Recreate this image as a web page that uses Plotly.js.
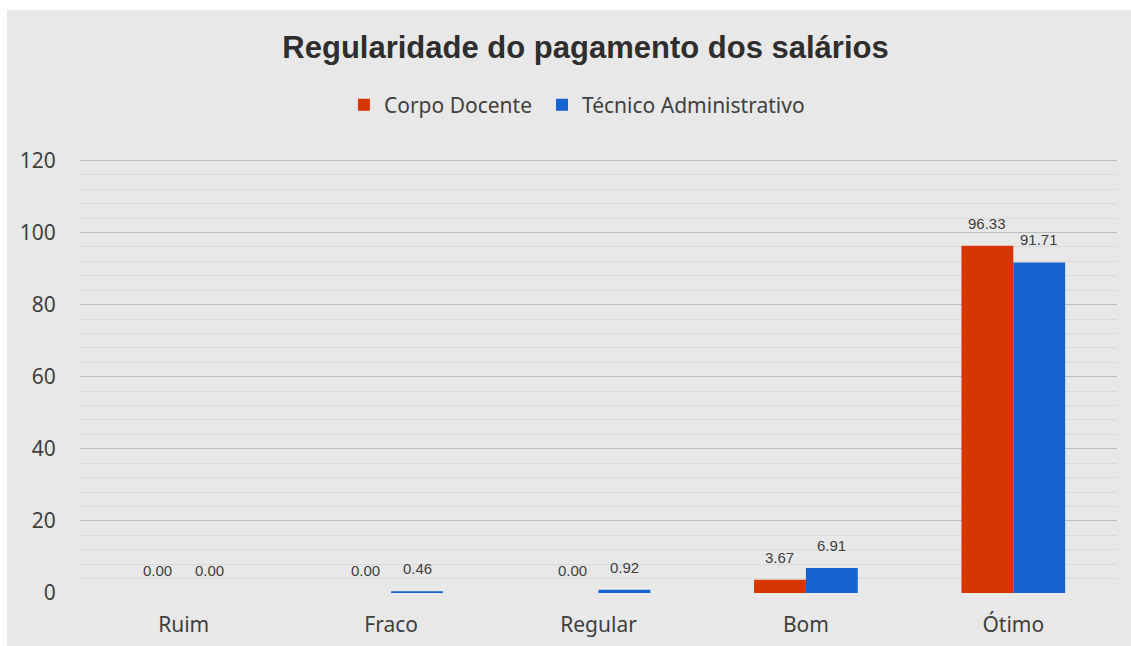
<!DOCTYPE html>
<html><head><meta charset="utf-8">
<script src="https://cdn.plot.ly/plotly-3.0.1.min.js"></script>
<style>
html,body{margin:0;padding:0;background:#ffffff;}
#chart{position:absolute;left:7px;top:10px;width:1124px;height:636px;}
</style></head>
<body><div id="chart"></div>
<script>
const categories = ["Ruim","Fraco","Regular","Bom","Ótimo"];
const corpoDocente = [0.00, 0.00, 0.00, 3.67, 96.33];
const tecnicoAdm = [0.00, 0.46, 0.92, 6.91, 91.71];
const seriesNames = ["Corpo Docente","Técnico Administrativo"];
const seriesColors = ["#d73502","#1463d0"];

const bargap = 0.5;
const nSeries = 2;
const barW = (1 - bargap) / nSeries;
const labelFont = {family:"Liberation Sans, Arial, sans-serif", size:15, color:"#404040"};
const legendIds = ["legend","legend2"];

const traces = [corpoDocente, tecnicoAdm].map((vals, s) => ({
  type:"bar", name:seriesNames[s], x:categories, y:vals, legend:legendIds[s],
  marker:{color:seriesColors[s]}, hoverinfo:"none"
}));

const annotations = [];
[corpoDocente, tecnicoAdm].forEach((vals, s) => {
  vals.forEach((v, i) => {
    annotations.push({
      xref:"x", yref:"y", x: i + (s - (nSeries - 1) / 2) * barW, y: v,
      text: v.toFixed(2), showarrow:false, xanchor:"center", yanchor:"bottom",
      yshift: 12, font: labelFont
    });
  });
});

const legendBase = {orientation:"h", xanchor:"left", y:1.124, yanchor:"middle",
  font:{family:"Noto Sans, sans-serif", size:21, color:"#404040"},
  bgcolor:"rgba(0,0,0,0)", itemwidth:30};

const layout = {
  width:1124, height:636,
  paper_bgcolor:"#e8e8e8", plot_bgcolor:"#e8e8e8",
  margin:{l:73, r:14, t:149, b:53},
  barmode:"group", bargap:bargap, bargroupgap:0,
  title:{text:"<b>Regularidade do pagamento dos salários</b>", x:0.5147, xanchor:"center",
         y:0.942, yanchor:"middle",
         font:{family:"Liberation Sans, Arial, sans-serif", size:31, color:"#2e2e2e"}},
  showlegend:true,
  legend:Object.assign({}, legendBase, {x:0.2545}),
  legend2:Object.assign({}, legendBase, {x:0.4455}),
  annotations: annotations,
  xaxis:{type:"category", showgrid:false, zeroline:false, showline:false,
         ticks:"outside", ticklen:13, tickcolor:"rgba(0,0,0,0)",
         tickfont:{family:"Noto Sans, sans-serif", size:21, color:"#404040"}},
  yaxis:{range:[0,120.4], tickvals:[0,20,40,60,80,100,120], showgrid:true, gridcolor:"#bdbdbd", gridwidth:1,
         zeroline:false, showline:false, ticks:"outside", ticklen:19, tickcolor:"rgba(0,0,0,0)",
         tickfont:{family:"Noto Sans, sans-serif", size:21, color:"#404040"},
         minor:{dtick:4, tick0:0, showgrid:true, gridcolor:"#dadada", gridwidth:1}},
  font:{family:"Noto Sans, sans-serif"}
};
Plotly.newPlot("chart", traces, layout, {staticPlot:true});
</script></body></html>
